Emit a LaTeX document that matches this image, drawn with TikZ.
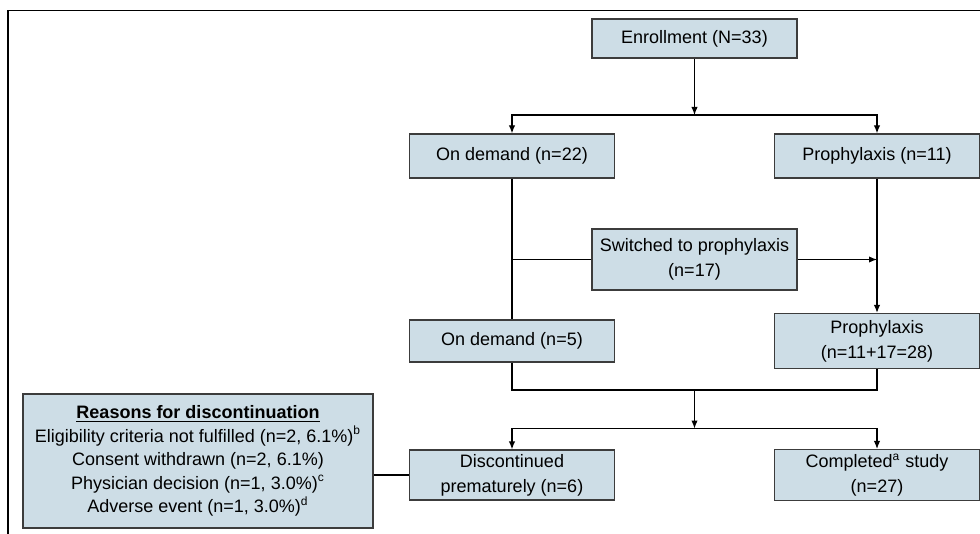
\documentclass[tikz,border=0pt]{standalone}
\usepackage{fontspec}
\setmainfont{Liberation Sans}
\usetikzlibrary{positioning,arrows.meta}
\definecolor{boxblue}{RGB}{205,221,230}
\definecolor{boxedge}{RGB}{60,60,60}
\tikzstyle{flowbox} = [rectangle, draw=boxedge, fill=boxblue, minimum width=102.5pt, align=center, inner sep=2pt, font=\fontsize{9}{12.5}\selectfont]

\begin{document}
\begin{tikzpicture}[->,>={Latex[length=4pt,width=3.2pt]},semithick,on grid,node distance=2cm]
  \useasboundingbox (0,0) rectangle (490pt,-267pt);
  % frame
  \draw[-,line width=0.9pt] (4pt,-267pt) -- (4pt,-5.25pt) -- (490pt,-5.25pt);

  \node[flowbox,minimum height=19.5pt] (enroll) at (347.25pt,-19.25pt) {Enrollment (N=33)};
  \node[flowbox,minimum height=22pt] (od_eins) [below left=58.75pt and 91.25pt of enroll] {On demand (n=22)};
  \node[flowbox,minimum height=22pt] (pro_eins) [right=182.5pt of od_eins] {Prophylaxis (n=11)};
  \node[flowbox,minimum height=30.5pt] (switch) [below=110.5pt of enroll] {Switched to prophylaxis\\(n=17)};
  \node[flowbox,minimum height=21pt] (od_zwei) [below=92.5pt of od_eins] {On demand (n=5)};
  \node[flowbox,minimum height=27.5pt] (pro_zwei) [below=92.5pt of pro_eins] {Prophylaxis\\(n=11+17=28)};
  \node[flowbox,minimum height=25pt] (disc) [below=67pt of od_zwei] {Discontinued\\prematurely (n=6)};
  \node[flowbox,minimum height=25pt] (comp) [right=182.5pt of disc] {Completed\textsuperscript{a} study\\(n=27)};
  \node[flowbox,minimum width=175pt,minimum height=67pt,font=\fontsize{9}{11.75}\selectfont] (reasons) [left=157pt of disc,yshift=7pt]
    {\underline{\textbf{Reasons for discontinuation}}\\
     Eligibility criteria not fulfilled (n=2, 6.1\%)\textsuperscript{b}\\
     Consent withdrawn (n=2, 6.1\%)\\
     Physician decision (n=1, 3.0\%)\textsuperscript{c}\\
     Adverse event (n=1, 3.0\%)\textsuperscript{d}};

  \coordinate[below=38.25pt of enroll] (split_eins);
  \coordinate[below=24.5pt of od_zwei] (merge_links);
  \coordinate (merge) at (merge_links -| enroll);
  \coordinate[below=19.25pt of merge] (split_zwei);

  \draw (enroll) -- (split_eins);
  \draw (split_eins) -| (od_eins);
  \draw (split_eins) -| (pro_eins);
  \draw[-] (od_eins) -- (od_zwei);
  \draw[-] (switch) -- (switch -| od_eins);
  \draw (switch) -- (switch -| pro_eins);
  \draw (pro_eins) -- (pro_zwei);
  \draw[-] (od_zwei) -- (merge_links) -| (pro_zwei);
  \draw (merge) -- (split_zwei);
  \draw (split_zwei) -| (disc);
  \draw (split_zwei) -| (comp);
  \draw[-] (reasons.east |- disc) -- (disc);
\end{tikzpicture}
\end{document}
